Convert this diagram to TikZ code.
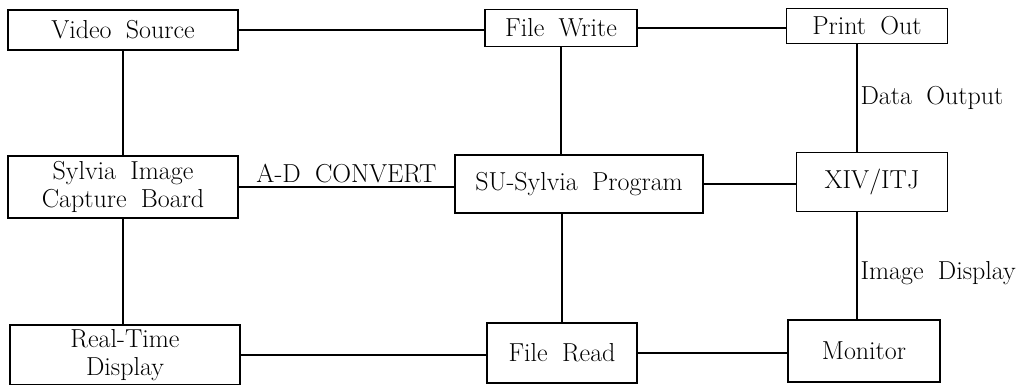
\documentclass[tikz,border=0pt]{standalone}
\usepackage{tikz}
\usetikzlibrary{positioning}
\newcommand{\boxfont}{\fontsize{26}{28}\selectfont\spaceskip=0.55em\relax}
\tikzset{
	every node/.style={font=\boxfont},
	unit/.style={draw=black, line width=1.3pt, align=center, inner sep=0pt},
	tag/.style={inner sep=3pt}
}

\begin{document}
\begin{tikzpicture}
	[ x=1pt, y=-1pt, line width=1.2pt ]
	\useasboundingbox (0,0) rectangle (1026,385);
	% top row
	\node[unit, minimum width=230pt, minimum height=40pt] (vs) at (123,30) {Video Source};
	\node[unit, minimum width=152pt, minimum height=37pt] (fw) at (561,28) {File Write};
	\node[unit, minimum width=161pt, minimum height=35pt] (po) at (867,26) {Print Out};
	% middle row
	\node[unit, minimum width=230pt, minimum height=62pt] (cb) at (123,187) {Sylvia Image\\Capture Board};
	\node[unit, minimum width=248pt, minimum height=58pt] (su) at (579,184) {SU-Sylvia Program};
	\node[unit, minimum width=151pt, minimum height=59pt] (xiv) at (872,182) {XIV/ITJ};
	% bottom row
	\node[unit, minimum width=230pt, minimum height=60pt] (rt) at (125,355) {Real-Time\\Display};
	\node[unit, minimum width=150pt, minimum height=60pt] (fr) at (562,353) {File Read};
	\node[unit, minimum width=152pt, minimum height=62pt] (mon) at (864,351) {Monitor};
	\coordinate (c3) at (857,0);
	\draw
	(vs.east) edge (vs.east -| fw.west)
	(fw.east) edge (fw.east -| po.west)
	(cb.east) edge[above] node[tag]{A-D CONVERT} (cb.east -| su.west)
	(su.east) edge (su.east -| xiv.west)
	(rt.east) edge (rt.east -| fr.west)
	(fr.east) edge (fr.east -| mon.west)
	(vs) edge (cb)
	(cb.south) edge (cb.south |- rt.north)
	(fw.south) edge (fw.south |- su.north)
	(fr.north) edge (fr.north |- su.south)
	(po.south -| c3) edge[right] node[tag]{Data Output} (xiv.north -| c3)
	(xiv.south -| c3) edge[right] node[tag, yshift=-7pt]{Image Display} (mon.north -| c3)
	;
\end{tikzpicture}
\end{document}
